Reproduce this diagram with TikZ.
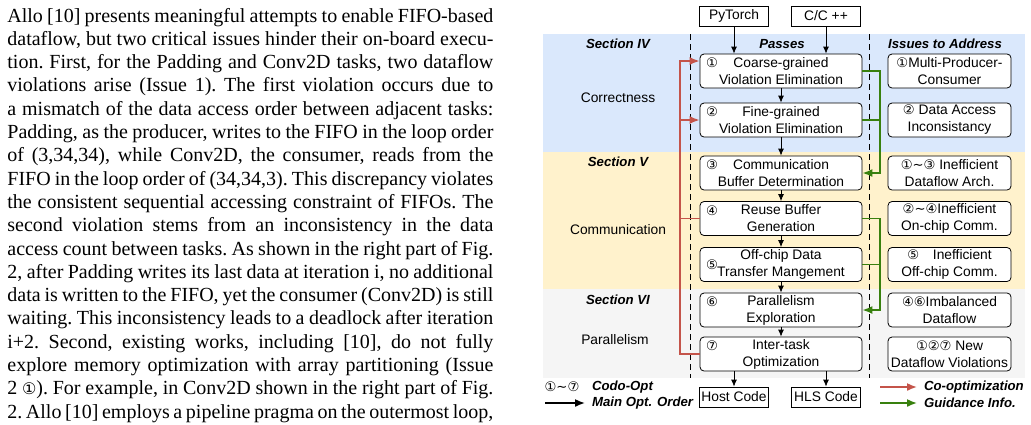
\documentclass[tikz,border=0pt]{standalone}
\usepackage{fontspec}
\setmainfont{Liberation Serif}
\setsansfont{Liberation Sans}
\newfontfamily\symfont{DejaVu Sans}
\usetikzlibrary{arrows.meta,calc,positioning}
\newcommand{\cnum}[1]{{\symfont\fontsize{6.6pt}{8.5pt}\selectfont #1}}
\definecolor{bgblue}{RGB}{218,232,252}
\definecolor{bgorange}{RGB}{255,242,204}
\definecolor{bggray}{RGB}{245,245,245}
\definecolor{coopt}{RGB}{196,84,74}
\definecolor{guide}{RGB}{56,128,14}
\tikzset{%
  >={Latex[width=3pt,length=3.5pt]},
  % Specifications for style of nodes:
            pass/.style = {rectangle, rounded corners=2pt, draw=black, fill=white,
                           minimum width=81pt, minimum height=17pt, inner sep=0pt,
                           align=center, font=\sffamily\fontsize{6.9pt}{8.5pt}\selectfont},
           issue/.style = {pass, minimum width=61.5pt},
              io/.style = {rectangle, draw=black, fill=white, minimum width=34.5pt,
                           minimum height=10pt, inner sep=0pt,
                           font=\sffamily\fontsize{6.9pt}{8pt}\selectfont},
            head/.style = {font=\sffamily\bfseries\itshape\fontsize{6.6pt}{8pt}\selectfont},
           plain/.style = {font=\sffamily\fontsize{6.9pt}{8pt}\selectfont},
           redln/.style = {coopt, line width=0.8pt, -{Latex[width=4pt,length=5pt]}},
           grnln/.style = {guide, line width=0.8pt, -{Latex[width=4pt,length=5pt]}}
                           }

\begin{document}
\begin{tikzpicture}[x=0.5pt, y=-0.5pt]
  \useasboundingbox (0,0) rectangle (1031,424);
  \clip (0,0) rectangle (1031,424);

  % text column
  \node (para) [anchor=base west, inner sep=0pt] at (7,22)
    {\begin{minipage}[t]{243pt}\fontsize{10pt}{11.65pt}\selectfont\frenchspacing
     Allo [10] presents meaningful attempts to enable FIFO-based\linebreak
     dataflow, but two critical issues hinder their on-board execu-\linebreak
     tion. First, for the Padding and Conv2D tasks, two dataflow\linebreak
     violations arise (Issue 1). The first violation occurs due to\linebreak
     a mismatch of the data access order between adjacent tasks:\linebreak
     Padding, as the producer, writes to the FIFO in the loop order\linebreak
     of (3,34,34), while Conv2D, the consumer, reads from the\linebreak
     FIFO in the loop order of (34,34,3). This discrepancy violates\linebreak
     the consistent sequential accessing constraint of FIFOs. The\linebreak
     second violation stems from an inconsistency in the data\linebreak
     access count between tasks. As shown in the right part of Fig.\linebreak
     2, after Padding writes its last data at iteration i, no additional\linebreak
     data is written to the FIFO, yet the consumer (Conv2D) is still\linebreak
     waiting. This inconsistency leads to a deadlock after iteration\linebreak
     i+2. Second, existing works, including [10], do not fully\linebreak
     explore memory optimization with array partitioning (Issue\linebreak
     2 {\symfont\fontsize{8pt}{10pt}\selectfont ①}). For example, in Conv2D shown in the right part of Fig.\linebreak
     2. Allo [10] employs a pipeline pragma on the outermost loop,
     \end{minipage}};

  % section bands
  \fill[bgblue]   (543,34)  rectangle (1025,152);
  \fill[bgorange] (543,152) rectangle (1025,289);
  \fill[bggray]   (543,289) rectangle (1025,378);
  \draw[densely dashed, thin] (690,34) -- (690,378);
  \draw[densely dashed, thin] (869,34) -- (869,378);

  \node (secIV)  [head]  at (618,44)  {Section IV};
  \node (secV)   [head]  at (618,162) {Section V};
  \node (secVI)  [head]  at (618,300) {Section VI};
  \node (passes) [head]  at (782,44)  {Passes};
  \node (issues) [head]  at (945,44)  {Issues to Address};
  \node (corr)   [plain] at (618,98)  {Correctness};
  \node (comm)   [plain] at (618,230) {Communication};
  \node (para2)  [plain] at (615,340) {Parallelism};

  % inputs
  \node (torch) [io] at (734,16) {PyTorch};
  \node (cpp)   [io] at (826,16) {C/C ++};

  % passes
  \node (p1) [pass] at (781,71)    {Coarse-grained\\Violation Elimination};
  \node (p2) [pass] at (781,120)   {Fine-grained\\Violation Elimination};
  \node (p3) [pass] at (781,173)   {Communication\\Buffer Determination};
  \node (p4) [pass] at (781,218.5) {Reuse Buffer\\Generation};
  \node (p5) [pass] at (781,264.5) {Off-chip Data\\Transfer Mangement};
  \node (p6) [pass] at (781,310)   {Parallelism\\Exploration};
  \node (p7) [pass] at (781,354)   {Inter-task\\Optimization};
  \foreach \i/\c in {1/①,2/②,3/③,4/④,6/⑥,7/⑦}
    \node (n\i) [anchor=west, inner sep=0pt, yshift=4pt] at ($(p\i.west)+(6,0)$) {\cnum{\c}};
  \node (n5) [anchor=west, inner sep=0pt] at ($(p5.west)+(6,0)$) {\cnum{⑤}};

  % issues
  \node (i1) [issue] at (949.5,71)    {\cnum{①}Multi-Producer-\\Consumer};
  \node (i2) [issue] at (949.5,120)   {\cnum{②} Data Access\\Inconsistancy};
  \node (i3) [issue] at (949.5,173)   {\cnum{①\char`~③} Inefficient\\Dataflow Arch.};
  \node (i4) [issue] at (949.5,218.5) {\cnum{②\char`~④}Inefficient\\On-chip Comm.};
  \node (i5) [issue] at (949.5,264.5) {\cnum{⑤}\quad Inefficient\\Off-chip Comm.};
  \node (i6) [issue] at (949.5,310)   {\cnum{④⑥}Imbalanced\\Dataflow};
  \node (i7) [issue] at (949.5,354)   {\cnum{①②⑦} New\\Dataflow Violations};

  % outputs
  \node (host) [io] at (734,397) {Host Code};
  \node (hls)  [io] at (826,397) {HLS Code};

  % main order
  \draw[->] (torch) -- (torch |- p1.north);
  \draw[->] (cpp)   -- (cpp |- p1.north);
  \foreach \a/\b in {p1/p2,p2/p3,p3/p4,p4/p5,p5/p6,p6/p7}
    \draw[->] (\a) -- (\b);
  \draw[->] (p7.south -| host) -- (host);
  \draw[->] (p7.south -| hls)  -- (hls);

  % co-optimization
  \coordinate (rtop) at (680,61);
  \draw[redln] (p7.west) -| (rtop) -- (rtop -| p1.west);
  \draw[redln] (p2.west -| rtop) -- (p2.west);
  \draw[coopt, line width=0.8pt] (p4.west) -- (p4.west -| rtop);

  % guidance
  \coordinate (gA) at (880,173);
  \coordinate (gB) at (880,310);
  \draw[grnln] (p1.east) -| (gA) -- (p3.east);
  \draw[guide, line width=0.8pt] (p2.east) -- (p2.east -| gA);
  \draw[grnln] (p4.east) -| (gB) -- (p6.east);
  \draw[guide, line width=0.8pt] (p5.east) -- (p5.east -| gB);

  % legend
  \node (lgnum) [inner sep=0pt] at (562,387) {\cnum{①\char`~⑦}};
  \node (lgcodo) [head, anchor=west] at (585,387) {Codo-Opt};
  \node (lgmain) [head, anchor=west] at (585,403) {Main Opt. Order};
  \coordinate (lgk) at (545,403);
  \draw[line width=0.8pt, -{Latex[width=4pt,length=5pt]}] (lgk) -- (lgmain.west);
  \node (lgco)   [head, anchor=west] at (917,387) {Co-optimization};
  \node (lggd)   [head, anchor=west] at (917,403) {Guidance Info.};
  \coordinate (lgr) at (880,387);
  \coordinate (lgg) at (880,403);
  \draw[redln] (lgr) -- (lgco.west);
  \draw[grnln] (lgg) -- (lggd.west);
\end{tikzpicture}
\end{document}
